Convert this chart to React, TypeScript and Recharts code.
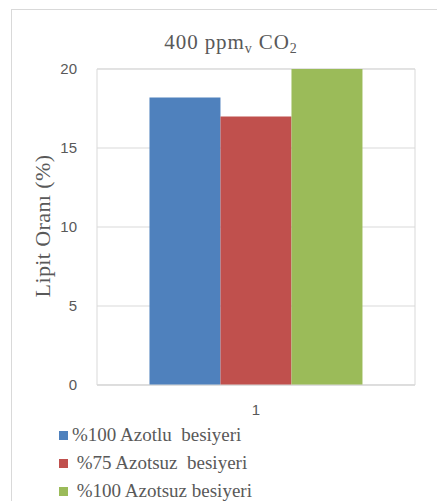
import { BarChart, Bar, XAxis, YAxis, CartesianGrid, Legend, ReferenceArea, Customized } from "recharts";

const categories = ["1"];
const azotlu100 = [18.2];
const azotsuz75 = [17.0];
const azotsuz100 = [20.0];
const yTicks = [0, 5, 10, 15, 20];

const seriesInfo = [
  { key: "a", name: "%100 Azotlu  besiyeri", color: "#4F81BD", values: azotlu100 },
  { key: "b", name: " %75 Azotsuz  besiyeri", color: "#C0504D", values: azotsuz75 },
  { key: "c", name: " %100 Azotsuz besiyeri", color: "#9BBB59", values: azotsuz100 },
];

const rows = categories.map((c, i) => {
  const row: Record<string, number | string> = { cat: c };
  seriesInfo.forEach((s) => {
    row[s.key] = s.values[i];
  });
  return row;
});

const gray = "#595959";
const lineGray = "#D9D9D9";

function Title() {
  return (
    <g>
      <text x={231} y={49} textAnchor="middle" fill={gray} fontFamily="'Liberation Serif', serif" fontSize={21} letterSpacing={0.9}>
        400 ppm
        <tspan fontSize={14} dy={4}>v</tspan>
        <tspan dy={-4}> CO</tspan>
        <tspan fontSize={14} dy={4}>2</tspan>
      </text>
      <text
        x={0}
        y={0}
        transform="translate(50,226) rotate(-90)"
        textAnchor="middle"
        fill={gray}
        fontFamily="'Liberation Serif', serif"
        fontSize={22}
        letterSpacing={0.4}
      >
        Lipit Oranı (%)
      </text>
    </g>
  );
}

function LegendBox() {
  return (
    <div style={{ fontFamily: "'Liberation Serif', serif", fontSize: 19, color: gray }}>
      {seriesInfo.map((s) => (
        <div key={s.key} style={{ display: "flex", alignItems: "center", height: 28, whiteSpace: "pre" }}>
          <span style={{ width: 9, height: 9, background: s.color, display: "inline-block", marginRight: 4 }} />
          <span>{s.name}</span>
        </div>
      ))}
    </div>
  );
}

export default function App() {
  return (
    <div style={{ position: "absolute", left: 0, top: 0, width: 437, height: 501, background: "#fff", overflow: "hidden" }}>
      <div
        style={{
          position: "absolute",
          left: 11,
          top: 9,
          width: 440,
          height: 510,
          border: `1px solid ${lineGray}`,
        }}
      />
      <BarChart
        width={437}
        height={501}
        data={rows}
        margin={{ top: 69, right: 22, left: 37, bottom: 86 }}
        barCategoryGap="16.5%"
        barGap={0}
        style={{ position: "absolute", left: 0, top: 0 }}
      >
        <CartesianGrid vertical={false} stroke={lineGray} />
        <ReferenceArea y1={0} y2={20} fill="none" stroke={lineGray} ifOverflow="visible" />
        <XAxis
          dataKey="cat"
          axisLine={{ stroke: lineGray }}
          tickLine={false}
          tickSize={0}
          tickMargin={19}
          height={30}
          tick={{ fill: gray, fontSize: 15, fontFamily: "'Liberation Sans', sans-serif" }}
        />
        <YAxis
          domain={[0, 20]}
          ticks={yTicks}
          width={60}
          axisLine={false}
          tickLine={false}
          tickSize={0}
          tickMargin={20}
          tick={{ fill: gray, fontSize: 15, fontFamily: "'Liberation Sans', sans-serif" }}
        />
        {seriesInfo.map((s) => (
          <Bar key={s.key} dataKey={s.key} name={s.name} fill={s.color} isAnimationActive={false} />
        ))}
        <Legend
          layout="vertical"
          verticalAlign="middle"
          align="center"
          content={() => <LegendBox />}
          wrapperStyle={{ left: 59, top: 421, width: 320, height: 85 }}
        />
        <Customized component={Title} />
      </BarChart>
    </div>
  );
}
